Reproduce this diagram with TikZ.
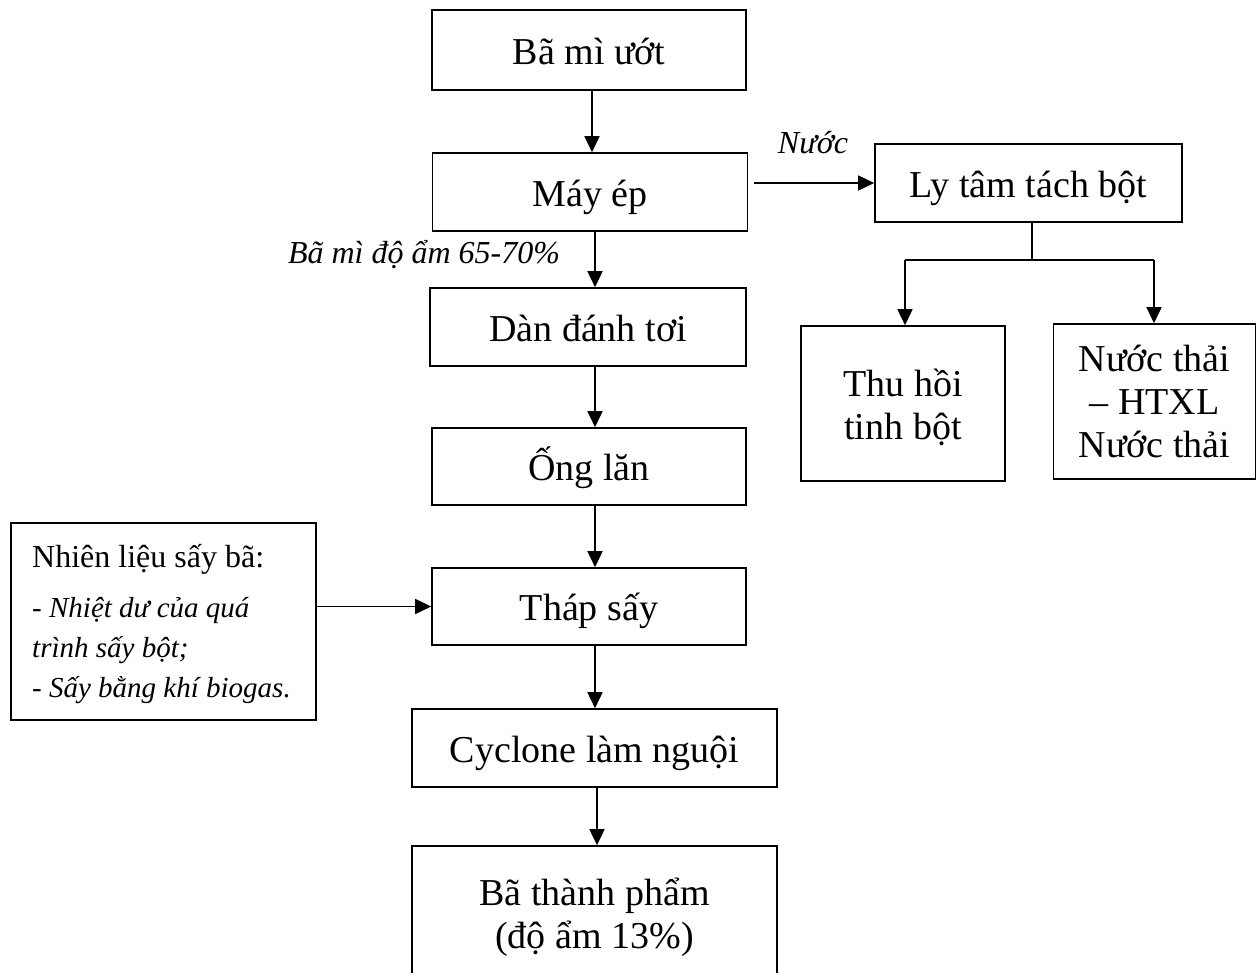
\documentclass[tikz,border=0pt]{standalone}
\usepackage{fontspec}
\setmainfont{Liberation Serif}
\usetikzlibrary{arrows.meta}
\begin{document}
\begin{tikzpicture}[x=1pt,y=-1pt,
  box/.style={draw, line width=1.6pt, align=center, font=\fontsize{38}{43}\selectfont, inner sep=0pt},
  one/.style={text height=36pt, text depth=8pt},
  arr/.style={line width=1.6pt, -{Triangle[length=16pt,width=15pt]}},
  ln/.style={line width=1.6pt},
  lbl/.style={font=\fontsize{32}{40}\selectfont\itshape, inner sep=0pt, anchor=base},
  side/.style={font=\fontsize{32}{40}\selectfont, inner sep=0pt, anchor=base west},
  sideit/.style={font=\fontsize{29}{40}\selectfont\itshape, inner sep=0pt, anchor=base west}]
\useasboundingbox (0,0) rectangle (1257,972);
% main column
\node[box, one, minimum width=314pt, minimum height=80pt] (bm) at (589,50) {Bã mì ướt};
\node[box, one, minimum width=315pt, minimum height=78pt] (me) at (590,192) {Máy ép};
\node[box, one, minimum width=316pt, minimum height=78pt] (dt) at (588,327) {Dàn đánh tơi};
\node[box, one, minimum width=314pt, minimum height=77pt] (ol) at (589,466.5) {Ống lăn};
\node[box, one, minimum width=314pt, minimum height=77pt] (ts) at (589,606.5) {Tháp sấy};
\node[box, one, minimum width=365pt, minimum height=78pt] (cy) at (594.5,748) {Cyclone làm nguội};
\node[box, minimum width=365pt, minimum height=142pt] (tp) at (594.5,917) {Bã thành phẩm\\(độ ẩm 13\%)};
% right branch
\node[box, one, minimum width=307pt, minimum height=78pt] (lt) at (1028.5,183) {Ly tâm tách bột};
\node[draw, line width=1.6pt, minimum width=204pt, minimum height=155pt, inner sep=0pt] (thb) at (903,403.5) {};
\node[box, draw=none] (th) at (903,407) {Thu hồi\\tinh bột};
\node[box, minimum width=202pt, minimum height=155pt] (nt) at (1154.5,401.5) {Nước thải\\– HTXL\\Nước thải};
% fuel box
\node[draw, line width=1.6pt, minimum width=305pt, minimum height=197pt, inner sep=0pt] (nl) at (163.5,621.5) {};
\node[side] (nl1) at (32,567) {Nhiên liệu sấy bã:};
\node[sideit] (nl2) at (32,617) {- Nhiệt dư của quá};
\node[sideit] (nl3) at (32,657) {trình sấy bột;};
\node[sideit] (nl4) at (32,697) {- Sấy bằng khí biogas.};
% labels
\node[lbl] (nuoc) at (813,153) {Nước};
\node[lbl] (doam) at (424,263) {Bã mì độ ẩm 65-70\%};
% connectors
\coordinate (ax0) at (592,0);
\coordinate (ax) at (595,0);
\coordinate (bx) at (597,0);
\draw[arr] (bm.south -| ax0) -- (me.north -| ax0);
\draw[arr] (me.south -| ax) -- (dt.north -| ax);
\draw[arr] (dt.south -| ax) -- (ol.north -| ax);
\draw[arr] (ol.south -| ax) -- (ts.north -| ax);
\draw[arr] (ts.south -| ax) -- (cy.north -| ax);
\draw[arr] (cy.south -| bx) -- (tp.north -| bx);
\draw[arr, shorten <=6pt] (me.east |- lt.west) -- (lt.west);
\draw[arr] (nl.east |- ts.west) -- (ts.west);
\coordinate (j) at (1032,260);
\coordinate (jl) at (905,260);
\coordinate (jr) at (1154,260);
\draw[ln] (lt.south -| j) -- (j);
\draw[ln] (jl) -- (jr);
\draw[arr] (jl) -- (jl |- thb.north);
\draw[arr] (jr) -- (jr |- nt.north);
\end{tikzpicture}
\end{document}
